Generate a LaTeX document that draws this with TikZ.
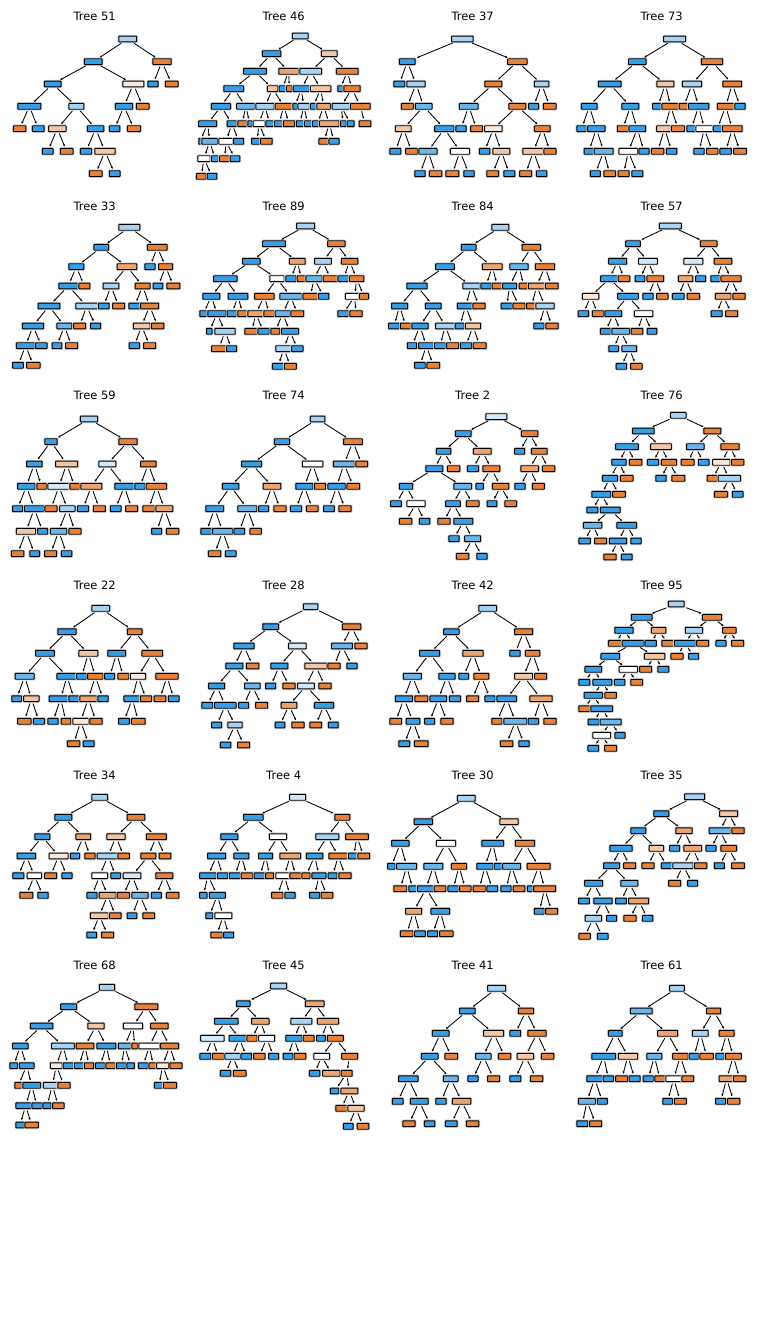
\documentclass[tikz,border=0pt]{standalone}
\usepackage{fontspec}
\setmainfont{DejaVu Sans}
\usetikzlibrary{arrows.meta}

% class colours, lighter = less pure
\definecolor{b1}{HTML}{399DE5}
\colorlet{b2}{b1!75!white}
\colorlet{b3}{b1!45!white}
\colorlet{b4}{b1!22!white}
\definecolor{o1}{HTML}{E58139}
\colorlet{o2}{o1!72!white}
\colorlet{o3}{o1!45!white}
\colorlet{o4}{o1!18!white}
\colorlet{w0}{white}

\tikzset{
  leaf/.style={draw=black, line width=0.95pt, rounded corners=0.6pt, minimum height=5.8pt, inner sep=0pt,
    preaction={draw=black!15, line width=2.7pt}},
  split/.style={-{Stealth[length=2.4pt,width=2.2pt]}, line width=0.85pt, shorten <=1.6pt, shorten >=1.6pt},
  title/.style={font=\fontsize{11.5}{13}\selectfont}
}

% #1 tag, #2/#3 panel offset, #4 list n/x/y/w/colour/parent (0 = root)
\newcommand\plottree[4]{%
  \begin{scope}[xshift=#2pt, yshift=-#3pt, x=0.33333pt, y=-0.33333pt]
    \foreach \n/\x/\y/\w/\c/\p in {#4}{
      \node[leaf, fill=\c, minimum width={(\w/3-0.9)*1pt}] (#1-\n) at (\x,\y) {};
      \ifnum\p>0 \draw[split] (#1-\p) -- (#1-\n); \fi
    }
  \end{scope}}

\begin{document}
\begin{tikzpicture}[x=1pt, y=-1pt]
\useasboundingbox (0,0) rectangle (756,1334);

% titles
\foreach \t/\cx/\cy in {51/94.7/16, 46/283.7/16, 37/472.7/16, 73/661.7/16,
                        33/94.7/206, 89/283.7/206, 84/472.7/206, 57/661.7/206,
                        59/94.7/395, 74/283.7/395, 2/472.7/395, 76/661.7/395,
                        22/94.7/585, 28/283.7/585, 42/472.7/585, 95/661.7/585,
                        34/94.7/775, 4/283.7/775, 30/472.7/775, 35/661.7/775,
                        68/94.7/965, 45/283.7/965, 41/472.7/965, 61/661.7/965}
  \node[title] (title\t) at (\cx,\cy) {Tree \t};

% row 1
\plottree{t51}{0}{5}{1/383/102/56/b3/0, 2/280/170/56/b1/1, 3/486/170/58/o1/1, 4/158/237/53/b1/2, 5/400/237/66/o4/2,
  6/459/237/33/b1/3, 7/515/237/41/o1/3, 8/88/304/72/b1/4, 9/229/304/48/b3/4, 10/372/304/55/b1/5, 11/428/304/41/o1/5,
  12/59/371/40/o1/8, 13/115/371/38/b1/8, 14/172/371/55/o3/9, 15/287/371/52/b1/9, 16/344/371/34/b1/10, 17/402/371/42/o1/10,
  18/143/439/35/b1/14, 19/200/439/41/o1/14, 20/258/439/36/b1/15, 21/315/439/64/o3/15, 22/287/506/41/o1/21, 23/344/506/35/b1/21}

\plottree{t46}{0}{5}{1/901/93/50/b3/0, 2/815/146/58/b1/1, 3/988/146/50/o3/1, 4/765/199/71/b1/2, 5/866/199/62/o2/2,
  6/932/199/68/b3/3, 7/1042/199/68/o1/3, 8/701/251/62/b1/4, 9/818/251/34/o3/4, 10/847/251/22/b1/5, 11/868/251/20/o1/5,
  12/904/251/52/b1/6, 13/962/251/64/o3/6, 14/1021/251/18/b1/7, 15/1056/251/52/o1/7, 16/663/304/60/b1/8, 17/737/304/57/b2/8,
  18/795/304/58/b3/9, 19/852/304/56/o1/9, 20/885/304/16/b1/12, 21/911/304/37/b3/12, 22/940/304/20/b1/13, 23/971/304/44/o2/13,
  24/1023/304/56/b3/15, 25/1081/304/62/o1/15, 26/623/356/57/b1/16, 27/696/356/32/b1/16, 28/727/356/30/o1/17, 29/750/356/16/b1/17,
  30/777/356/38/w0/18, 31/809/356/26/b1/18, 32/836/356/28/b1/19, 33/867/356/37/o1/19, 34/900/356/25/b1/21, 35/924/356/24/b1/21,
  36/952/356/32/b1/23, 37/988/356/62/o2/23, 38/1030/356/20/b1/24, 39/1052/356/24/b1/24, 40/1095/356/38/o1/25,
  41/600/409/10/b1/26, 42/629/409/50/b2/26, 43/678/409/45/w0/27, 44/716/409/33/b1/27, 45/771/409/35/b1/30, 46/799/409/38/o1/30,
  47/972/409/33/o1/37, 48/1002/409/33/b1/37, 49/612/461/40/w0/42, 50/645/461/24/b1/42, 51/674/461/34/o1/43, 52/705/461/32/b1/43,
  53/604/514/32/o1/49, 54/636/514/32/b1/49}

\plottree{t37}{378}{5}{1/253/102/67/b3/0, 2/88/170/50/b1/1, 3/418/170/61/o1/1, 4/64/237/36/b1/2, 5/114/237/57/b3/2,
  6/346/237/54/o1/3, 7/491/237/46/b3/3, 8/88/304/39/o1/5, 9/137/304/53/b2/5, 10/272/304/59/b2/6, 11/418/304/54/o1/6,
  12/467/304/33/b1/7, 13/515/304/41/o1/7, 14/76/371/50/o3/9, 15/199/371/61/b1/9, 16/249/371/34/b1/10, 17/296/371/39/o1/10,
  18/346/371/55/o4/11, 19/493/371/50/o1/11, 20/52/439/36/b1/14, 21/101/439/39/o1/14, 22/150/439/57/b2/15, 23/246/439/60/w0/15,
  24/320/439/34/b1/18, 25/370/439/54/o3/18, 26/466/439/66/o3/19, 27/516/439/39/o1/19, 28/126/506/34/b1/22, 29/173/506/40/o1/22,
  30/223/506/42/o1/23, 31/273/506/34/b1/23, 32/344/506/38/o1/25, 33/394/506/36/b1/25, 34/443/506/39/o1/26, 35/491/506/34/b1/26}

\plottree{t73}{378}{5}{1/890/102/69/b3/0, 2/778/170/55/b1/1, 3/1002/170/67/o1/1, 4/695/237/71/b1/2, 5/862/237/54/o3/2,
  6/942/237/61/b3/3, 7/1063/237/59/o1/3, 8/634/304/50/b1/4, 9/757/304/54/b1/4, 10/840/304/35/b1/5, 11/878/304/55/o1/5,
  12/918/304/32/o1/6, 13/962/304/64/b1/6, 14/1043/304/53/o1/7, 15/1086/304/34/b1/7, 16/611/371/32/b1/8, 17/655/371/55/b1/8,
  18/735/371/37/o1/9, 19/778/371/53/b1/9, 20/860/371/51/o3/11, 21/900/371/42/o1/11, 22/940/371/30/b1/13, 23/979/371/53/w0/13,
  24/1018/371/28/b1/14, 25/1063/371/62/o1/14, 26/633/439/32/b1/17, 27/677/439/60/b2/17, 28/751/439/59/w0/19, 29/798/439/33/b1/19,
  30/839/439/40/o1/20, 31/881/439/34/b1/20, 32/963/439/34/b1/23, 33/1003/439/37/o1/23, 34/1043/439/37/b1/25, 35/1086/439/41/o1/25,
  36/652/506/33/b1/27, 37/695/506/38/o1/27, 38/737/506/36/o1/28, 39/778/506/36/b1/28}

% row 2
\plottree{t33}{0}{195}{1/388/97/66/b3/0, 2/304/157/47/b1/1, 3/472/157/62/o1/1, 4/229/215/48/b1/2, 5/381/215/62/o2/2,
  6/450/215/34/b1/3, 7/497/215/45/o1/3, 8/205/273/60/b1/4, 9/253/273/36/o1/4, 10/333/273/50/b3/5, 11/428/273/48/o1/5,
  12/474/273/32/b1/7, 13/520/273/42/o1/7, 14/147/333/68/b1/8, 15/260/333/68/b3/8, 16/311/333/35/b1/10, 17/356/333/39/o1/10,
  18/404/333/37/b1/11, 19/449/333/57/o1/11, 20/99/393/66/b1/14, 21/193/393/48/b2/14, 22/239/393/39/o1/15, 23/287/393/33/b1/15,
  24/425/393/53/o3/19, 25/473/393/40/o1/19, 26/77/452/58/b1/20, 27/124/452/37/b1/20, 28/171/452/32/b1/21, 29/215/452/39/o1/21,
  30/403/452/34/b1/24, 31/449/452/39/o1/24, 32/54/511/35/b1/26, 33/100/511/43/o1/26}

\plottree{t89}{0}{195}{1/917/93/57/b3/0, 2/822/146/71/b1/1, 3/1009/146/55/o1/1, 4/754/199/55/b1/2, 5/892/199/50/o2/2,
  6/969/199/53/b3/3, 7/1049/199/52/o1/3, 8/676/251/73/b1/4, 9/831/251/46/w0/4, 10/873/251/34/b1/5, 11/904/251/28/o1/5,
  12/942/251/51/b2/6, 13/991/251/46/o1/6, 14/1030/251/35/b1/7, 15/1070/251/46/o1/7, 16/634/304/54/b1/8, 17/714/304/62/b1/8,
  18/793/304/61/o1/9, 19/872/304/68/b2/9, 20/931/304/48/o1/12, 21/971/304/34/b1/12, 22/1064/304/58/w0/15, 23/1092/304/30/o1/15,
  24/610/356/24/b1/16, 25/651/356/58/b1/16, 26/696/356/32/b1/17, 27/728/356/32/o1/17, 28/767/356/50/o2/18, 29/808/356/36/o1/18,
  30/848/356/48/b2/19, 31/892/356/41/o1/19, 32/1030/356/36/b1/22, 33/1068/356/40/o1/22, 34/628/409/19/b1/25, 35/675/409/64/b3/25,
  36/756/409/46/o1/28, 37/791/409/37/b1/28, 38/826/409/30/o1/30, 39/870/409/54/b1/30, 40/657/461/47/o1/35, 41/695/461/33/b1/35,
  42/852/461/52/b3/39, 43/892/461/37/b1/39, 44/834/514/36/b1/42, 45/871/514/39/o1/42}

\plottree{t84}{378}{195}{1/367/97/54/b3/0, 2/272/157/47/b1/1, 3/460/157/58/o1/1, 4/201/215/59/b1/2, 5/343/215/62/o2/2,
  6/423/215/58/b2/3, 7/501/215/61/o1/3, 8/117/273/63/b1/4, 9/280/273/54/b3/4, 10/324/273/34/b1/5, 11/358/273/34/o1/5,
  12/395/273/45/b1/6, 13/438/273/32/o1/6, 14/476/273/52/o2/7, 15/521/273/41/o1/7, 16/65/333/51/b1/8, 17/166/333/50/b1/8,
  18/263/333/53/b1/9, 19/303/333/39/o1/9, 20/386/333/36/b1/12, 21/423/333/39/o1/12, 22/461/333/33/o1/14, 23/501/333/58/b3/14,
  24/48/393/35/b1/16, 25/83/393/34/o1/16, 26/126/393/52/b1/17, 27/202/393/61/b3/17, 28/245/393/30/b1/18, 29/285/393/49/o3/18,
  30/483/393/34/b1/23, 31/522/393/40/o1/23, 32/102/452/31/b1/26, 33/145/452/49/b1/26, 34/186/452/36/b1/27, 35/224/452/39/o1/27,
  36/264/452/37/b1/29, 37/305/452/42/o1/29, 38/126/511/35/b1/33, 39/166/511/41/o1/33}

\plottree{t57}{378}{195}{1/877/93/69/b3/0, 2/765/146/47/b1/1, 3/992/146/53/o1/1, 4/719/199/57/b1/2, 5/810/199/59/b4/2,
  6/946/199/60/b4/3, 7/1035/199/56/o1/3, 8/694/251/55/b1/4, 9/738/251/38/o1/4, 10/786/251/32/b1/5, 11/832/251/53/o1/5,
  12/923/251/46/o2/6, 13/968/251/33/b1/6, 14/1015/251/36/b1/7, 15/1059/251/63/o1/7, 16/638/304/52/o4/8, 17/750/304/65/b1/8,
  18/810/304/34/b1/11, 19/853/304/37/o1/11, 20/901/304/38/b1/12, 21/946/304/40/o1/12, 22/1036/304/50/o2/15, 23/1083/304/40/o1/15,
  24/616/356/34/b1/16, 25/660/356/37/o1/16, 26/706/356/53/b1/17, 27/797/356/58/w0/17, 28/1016/356/36/b1/22, 29/1061/356/39/o1/22,
  30/683/409/34/b1/26, 31/728/409/56/b2/26, 32/777/409/38/o1/27, 33/822/409/32/b1/27, 34/707/461/32/b1/31, 35/754/461/47/b2/31,
  36/730/514/34/b1/35, 37/775/514/37/o1/35}

% row 3
\plottree{t59}{0}{385}{1/267/102/55/b3/0, 2/153/170/40/b1/1, 3/384/170/58/o1/1, 4/103/237/49/b1/2, 5/200/237/69/o3/2,
  6/322/237/54/b4/3, 7/445/237/49/o1/3, 8/79/304/55/b1/4, 9/125/304/32/o1/4, 10/177/304/69/b4/5, 11/224/304/32/o1/5,
  12/274/304/66/o2/6, 13/373/304/60/b1/6, 14/420/304/34/b1/7, 15/469/304/64/o1/7, 16/53/371/33/b1/8, 17/103/371/62/b1/8,
  18/153/371/39/o1/10, 19/202/371/49/b3/10, 20/249/371/36/b1/12, 21/298/371/39/o1/12, 22/347/371/35/b1/13, 23/395/371/39/o1/13,
  24/446/371/38/o1/15, 25/493/371/54/o2/15, 26/78/439/61/o3/17, 27/128/439/33/b1/17, 28/176/439/52/b2/19, 29/225/439/39/o1/19,
  30/470/439/33/b1/25, 31/518/439/40/o1/25, 32/53/506/40/o1/26, 33/104/506/32/b1/26, 34/152/506/39/o1/28, 35/200/506/34/b1/28}

\plottree{t74}{0}{385}{1/953/102/46/b3/0, 2/846/170/48/b1/1, 3/1059/170/59/o1/1, 4/755/237/63/b1/2, 5/938/237/64/w0/2,
  6/1032/237/66/b2/3, 7/1085/237/38/o1/3, 8/692/304/52/b1/4, 9/816/304/56/o2/4, 10/913/304/54/b1/5, 11/960/304/37/o1/5,
  12/1010/304/55/b1/6, 13/1060/304/41/o1/6, 14/644/371/56/b1/8, 15/742/371/60/b2/8, 16/791/371/33/b1/9, 17/840/371/40/o1/9,
  18/888/371/36/b1/10, 19/937/371/38/o1/10, 20/987/371/35/b1/12, 21/1035/371/40/o1/12, 22/619/439/36/b1/14, 23/668/439/63/b2/14,
  24/718/439/35/b1/15, 25/767/439/37/o1/15, 26/644/506/40/o1/23, 27/692/506/35/b1/23}

\plottree{t2}{378}{385}{1/355/95/66/b4/0, 2/256/146/50/b1/1, 3/455/146/52/o1/1, 4/197/199/46/b1/2, 5/313/199/56/o2/2,
  6/425/199/33/b1/3, 7/484/199/50/o1/3, 8/169/251/54/b1/4, 9/227/251/40/o1/4, 10/285/251/36/b1/5, 11/340/251/54/o1/5,
  12/455/251/56/o2/7, 13/512/251/40/o1/7, 14/84/304/43/b1/8, 15/254/304/56/b2/8, 16/305/304/25/b1/11, 17/368/304/52/o1/11,
  18/426/304/34/b1/12, 19/481/304/39/o1/12, 20/54/356/35/b1/14, 21/114/356/57/w0/14, 22/225/356/47/b1/15, 23/284/356/41/o1/15,
  24/342/356/32/b1/17, 25/398/356/38/o1/17, 26/83/409/40/o1/21, 27/140/409/34/b1/21, 28/198/409/40/o1/22, 29/256/409/60/b1/22,
  30/228/461/34/b1/29, 31/284/461/51/b2/29, 32/254/514/40/o1/31, 33/312/514/34/b1/31}

\plottree{t76}{378}{385}{1/901/91/49/b3/0, 2/796/138/67/b1/1, 3/1003/138/54/o1/1, 4/747/185/71/b1/2, 5/849/185/65/o3/2,
  6/952/185/55/b2/3, 7/1056/185/58/o1/3, 8/723/232/46/b1/4, 9/773/232/40/o1/4, 10/825/232/36/b1/5, 11/873/232/48/o1/5,
  12/929/232/42/o1/6, 13/977/232/35/b1/6, 14/1030/232/55/o4/7, 15/1079/232/40/o1/7, 16/696/280/48/b1/8, 17/746/280/41/o1/8,
  18/849/280/34/b1/11, 19/901/280/42/o1/11, 20/1004/280/36/o1/14, 21/1054/280/70/b3/14, 22/670/328/60/b1/16, 23/723/328/41/o1/16,
  24/1029/328/42/o1/21, 25/1079/328/35/b1/21, 26/643/375/36/b1/22, 27/697/375/62/b1/22, 28/644/421/58/b2/27, 29/746/421/62/b1/27,
  30/620/468/37/b1/28, 31/668/468/39/o1/28, 32/720/468/54/b1/29, 33/774/468/33/b1/29, 34/696/516/40/o1/32, 35/746/516/35/b1/32}

% row 4
\plottree{t22}{0}{575}{1/302/100/56/b3/0, 2/201/170/58/b1/1, 3/404/170/47/o1/1, 4/135/235/59/b1/2, 5/265/235/60/o3/2,
  6/350/235/56/b1/3, 7/457/235/65/o1/3, 8/74/304/60/b2/4, 9/201/304/63/b1/4, 10/245/304/33/b1/5, 11/286/304/49/o1/5,
  12/329/304/33/b1/6, 13/370/304/36/o1/6, 14/414/304/49/o4/7, 15/501/304/70/o1/7, 16/50/371/32/b1/8, 17/94/371/49/o3/8,
  18/182/371/72/b1/9, 19/222/371/34/b1/9, 20/265/371/54/o2/11, 21/309/371/34/b1/11, 22/397/371/53/b1/14, 23/438/371/37/o1/14,
  24/480/371/38/o1/15, 25/521/371/35/b1/15, 26/73/439/43/o1/17, 27/117/439/36/b1/17, 28/159/439/34/b1/18, 29/198/439/32/o1/18,
  30/242/439/50/o4/20, 31/288/439/40/o1/20, 32/372/439/35/b1/22, 33/415/439/44/o1/22, 34/221/506/40/o1/30, 35/266/506/36/b1/30}

\plottree{t28}{0}{575}{1/932/95/46/b3/0, 2/812/155/50/b1/1, 3/1055/155/58/o1/1, 4/732/213/63/b1/2, 5/892/213/55/b4/2,
  6/1026/213/65/b2/3, 7/1083/213/39/o1/3, 8/703/273/54/b1/4, 9/758/273/40/o1/4, 10/838/273/54/b1/5, 11/947/273/68/o3/5,
  12/1002/273/40/o1/6, 13/1056/273/34/b1/6, 14/650/333/51/b1/8, 15/757/333/49/b2/8, 16/812/333/33/b1/10, 17/867/333/39/o1/10,
  18/918/333/53/b4/11, 19/975/333/40/o1/11, 20/622/391/36/b1/14, 21/676/391/67/b1/14, 22/731/391/33/b1/15, 23/785/391/39/o1/15,
  24/867/391/50/o2/18, 25/972/391/60/b1/18, 26/650/450/33/b1/21, 27/705/450/46/b3/21, 28/840/450/32/b1/24, 29/894/450/39/o1/24,
  30/947/450/38/o1/25, 31/1000/450/32/b1/25, 32/677/510/34/b1/27, 33/731/510/39/o1/27}

\plottree{t42}{378}{575}{1/329/100/56/b3/0, 2/220/170/49/b1/1, 3/437/170/57/o1/1, 4/155/235/63/b1/2, 5/285/235/64/o2/2,
  6/411/235/34/b1/3, 7/464/235/46/o1/3, 8/103/304/57/b2/4, 9/207/304/52/b1/4, 10/257/304/32/b1/5, 11/310/304/48/o1/5,
  12/437/304/57/o3/7, 13/488/304/39/o1/7, 14/78/371/55/b1/8, 15/130/371/42/o1/8, 16/181/371/53/b1/9, 17/231/371/36/b1/9,
  18/284/371/39/o1/11, 19/336/371/33/b1/11, 20/386/371/62/b1/12, 21/489/371/70/o2/12, 22/53/439/38/o1/14, 23/105/439/44/b1/14,
  24/155/439/33/b1/16, 25/207/439/40/o1/16, 26/357/439/34/o1/20, 27/412/439/72/b2/20, 28/466/439/34/b1/21, 29/516/439/40/o1/21,
  30/79/506/36/b1/23, 31/130/506/44/o1/23, 32/386/506/40/o1/27, 33/438/506/34/b1/27}

\plottree{t95}{378}{575}{1/895/87/50/b3/0, 2/791/127/65/b1/1, 3/1002/127/60/o1/1, 4/738/166/58/b1/2, 5/842/166/46/o2/2,
  6/948/166/55/b3/3, 7/1054/166/43/o1/3, 8/712/205/44/o1/4, 9/765/205/68/b1/4, 10/818/205/37/b1/5, 11/869/205/38/o1/5,
  12/921/205/67/b1/6, 13/974/205/39/o1/6, 14/1029/205/33/b1/7, 15/1079/205/39/o1/7, 16/697/244/59/b1/9, 17/830/244/64/o3/9,
  18/897/244/39/o1/12, 19/947/244/33/b1/12, 20/646/283/53/b1/16, 21/751/283/58/w0/16, 22/803/283/39/o1/17, 23/856/283/36/b1/17,
  24/619/322/36/b1/20, 25/673/322/60/b1/20, 26/725/322/34/b1/21, 27/776/322/38/o1/21, 28/646/361/58/b1/25, 29/698/361/37/o1/25,
  30/619/401/36/o1/28, 31/671/401/68/b1/28, 32/647/441/36/b1/31, 33/698/441/66/b2/31, 34/671/481/56/w0/33, 35/726/481/33/b1/33,
  36/646/520/35/b1/34, 37/698/520/39/o1/34}

% row 5
\plottree{t34}{0}{765}{1/299/97/50/b3/0, 2/190/157/54/b1/1, 3/408/157/56/o1/1, 4/127/215/48/b1/2, 5/250/215/47/o2/2,
  6/348/215/58/o3/3, 7/469/215/63/o1/3, 8/79/273/58/b1/4, 9/176/273/60/o4/4, 10/225/273/31/b1/5, 11/270/273/34/o1/5,
  12/324/273/68/b3/6, 13/371/273/37/o1/6, 14/445/273/48/o1/7, 15/495/273/38/o1/7, 16/55/332/36/b1/8, 17/103/332/46/w0/8,
  18/152/332/39/o1/9, 19/201/332/33/b1/9, 20/299/332/50/w0/12, 21/347/332/32/b1/12, 22/396/332/56/b4/14, 23/493/332/54/o1/14,
  24/79/391/42/o1/17, 25/129/391/34/b1/17, 26/276/391/33/b1/20, 27/323/391/54/o2/20, 28/370/391/40/o1/22, 29/420/391/52/b2/22,
  30/469/391/33/b1/23, 31/518/391/40/o1/23, 32/298/452/57/o3/27, 33/346/452/38/o1/27, 34/396/452/32/b1/29, 35/446/452/38/o1/29,
  36/275/510/32/b1/32, 37/323/510/39/o1/32}

\plottree{t4}{0}{765}{1/893/97/51/b4/0, 2/760/157/61/b1/1, 3/1027/157/48/o1/1, 4/688/215/54/b1/2, 5/834/215/54/w0/2,
  6/982/215/72/b3/3, 7/1071/215/71/o1/3, 8/650/273/57/b1/4, 9/724/273/48/b1/4, 10/797/273/45/b1/5, 11/871/273/65/o2/5,
  12/944/273/52/b1/6, 13/1015/273/59/o1/6, 14/1061/273/35/b1/7, 15/1091/273/38/o1/7, 16/624/332/53/b1/8, 17/668/332/34/b1/8,
  18/705/332/37/b1/9, 19/741/332/38/o1/9, 20/780/332/38/b1/10, 21/809/332/27/o1/10, 22/853/332/54/w0/11, 23/887/332/38/o1/11,
  24/918/332/27/o1/12, 25/957/332/45/b1/12, 26/998/332/30/b1/13, 27/1035/332/40/o1/13, 28/610/391/25/b1/16, 29/652/391/51/b1/16,
  30/832/391/37/o1/22, 31/870/391/34/b1/22, 32/944/391/33/b1/25, 33/981/391/38/o1/25, 34/628/452/24/b1/29, 35/670/452/54/w0/29,
  36/650/510/37/o1/35, 37/686/510/33/b1/35}

\plottree{t30}{378}{765}{1/265/100/56/b3/0, 2/136/170/58/b1/1, 3/393/170/58/o3/1, 4/67/235/55/b1/2, 5/204/235/60/w0/2,
  6/344/235/68/b1/3, 7/441/235/61/o1/3, 8/40/304/25/b1/4, 9/86/304/63/b2/4, 10/166/304/60/b2/5, 11/243/304/48/o1/5,
  12/321/304/52/b1/6, 13/360/304/26/b1/6, 14/401/304/57/b2/7, 15/482/304/72/o1/7, 16/67/371/42/o1/9, 17/104/371/26/b1/9,
  18/144/371/54/b1/10, 19/186/371/38/o1/10, 20/226/371/35/b1/11, 21/262/371/37/o1/11, 22/304/371/40/o1/12, 23/343/371/35/b1/12,
  24/384/371/34/b1/14, 25/423/371/38/o1/14, 26/457/371/20/b1/15, 27/500/371/69/o1/15, 28/107/439/51/o2/18, 29/187/439/59/b1/18,
  30/484/439/33/b1/27, 31/521/439/39/o1/27, 32/86/506/41/o1/28, 33/126/506/35/b1/28, 34/164/506/33/b1/29, 35/205/506/43/o1/29}

\plottree{t35}{378}{765}{1/950/95/63/b3/0, 2/850/146/48/b1/1, 3/1052/146/57/o3/1, 4/781/197/48/b1/2, 5/918/197/52/o2/2,
  6/1026/197/68/b2/3, 7/1080/197/40/o1/3, 8/729/250/70/b1/4, 9/835/250/46/o3/4, 10/890/250/33/b1/5, 11/944/250/56/o2/5,
  12/999/250/33/b1/6, 13/1052/250/50/o1/6, 14/701/302/51/b1/8, 15/755/302/39/o1/8, 16/810/302/39/o1/9, 17/867/302/36/b1/9,
  18/915/302/64/b3/11, 19/968/302/40/o1/11, 20/1024/302/33/b1/13, 21/1080/302/41/o1/13, 22/647/355/57/b1/14, 23/754/355/54/b2/14,
  24/890/355/39/o1/18, 25/944/355/33/b1/18, 26/618/408/35/b1/22, 27/675/408/58/b1/22, 28/729/408/35/b1/23, 29/782/408/63/o2/23,
  30/646/460/52/b3/27, 31/701/460/33/b1/27, 32/756/460/40/o1/29, 33/809/460/34/b1/29, 34/620/514/37/o1/30, 35/674/514/35/b1/30}

% row 6
\plottree{t68}{0}{955}{1/321/97/49/b3/0, 2/206/155/51/b1/1, 3/439/155/72/o1/1, 4/125/213/70/b1/2, 5/288/213/52/o3/2,
  6/399/213/60/w0/3, 7/478/213/55/o1/3, 8/61/273/49/b1/4, 9/189/273/71/b3/4, 10/255/273/56/o1/5, 11/319/273/60/b1/5,
  12/374/273/40/b2/6, 13/404/273/20/o1/6, 14/448/273/65/w0/7, 15/509/273/57/o1/7, 16/41/332/26/b1/8, 17/80/332/47/b1/8,
  18/169/332/38/o4/9, 19/205/332/34/b1/9, 20/237/332/30/b1/10, 21/267/332/31/o1/10, 22/301/332/32/b1/11, 23/332/332/31/o1/11,
  24/364/332/32/b1/12, 25/392/332/25/b1/12, 26/430/332/32/b1/14, 27/460/332/29/o1/14, 28/488/332/39/o4/15, 29/528/332/39/o1/15,
  30/55/391/24/o1/17, 31/95/391/56/b1/17, 32/157/391/56/b3/18, 33/192/391/40/o1/18, 34/477/391/30/b1/28, 35/510/391/42/o1/28,
  36/77/452/61/b1/31, 37/111/452/33/b1/31, 38/141/452/27/b1/32, 39/175/452/37/o1/32, 40/60/510/27/b1/36, 41/95/510/43/o1/36}

\plottree{t45}{0}{955}{1/836/93/51/b3/0, 2/730/146/43/b1/1, 3/944/146/59/o2/1, 4/679/199/73/b1/2, 5/781/199/55/o2/2,
  6/904/199/66/b3/3, 7/984/199/66/o2/3, 8/637/250/73/b4/4, 9/718/250/64/b1/4, 10/756/250/33/o1/5, 11/800/250/51/w0/5,
  12/882/250/52/b1/6, 13/926/250/36/o1/6, 14/963/250/29/b1/7, 15/1006/250/51/o1/7, 16/616/304/36/b1/8, 17/655/304/38/o1/8,
  18/698/304/49/b3/9, 19/739/304/35/b1/9, 20/778/304/37/o1/11, 21/821/304/33/b1/11, 22/864/304/32/b1/12, 23/900/304/38/o1/12,
  24/965/304/50/w0/15, 25/1049/304/51/o1/15, 26/677/355/34/b1/18, 27/719/355/41/o1/18, 28/944/355/34/b1/24, 29/994/355/55/o2/24,
  30/1040/355/36/o1/25, 31/1004/408/28/b1/30, 32/1048/408/54/o2/30, 33/1024/460/36/o1/32, 34/1068/460/52/o3/32,
  35/1045/514/32/b1/34, 36/1089/514/38/o1/34}

\plottree{t41}{378}{955}{1/356/100/57/b3/0, 2/268/168/49/b1/1, 3/444/168/49/o1/1, 4/188/235/53/b1/2, 5/347/235/63/o3/2,
  6/412/235/35/b1/3, 7/477/235/58/o1/3, 8/155/304/53/b1/4, 9/220/304/41/o1/4, 10/316/304/49/b2/5, 11/380/304/40/o1/5,
  12/442/304/52/o3/7, 13/509/304/40/o1/7, 14/91/371/61/b1/8, 15/218/371/47/b2/8, 16/285/371/33/b1/10, 17/347/371/39/o1/10,
  18/412/371/36/b1/12, 19/476/371/40/o1/12, 20/59/439/35/b1/14, 21/124/439/56/b1/14, 22/189/439/34/b1/15, 23/251/439/58/o2/15,
  24/93/506/40/o1/21, 25/155/506/34/b1/21, 26/220/506/38/b1/23, 27/284/506/40/o1/23}

\plottree{t61}{378}{955}{1/897/100/47/b3/0, 2/790/168/68/b2/1, 3/1007/168/45/o1/1, 4/712/235/44/b1/2, 5/869/235/63/o2/2,
  6/967/235/50/b3/3, 7/1046/235/48/o1/3, 8/677/304/74/b1/4, 9/750/304/61/o3/4, 10/829/304/48/b2/5, 11/907/304/49/o1/5,
  12/948/304/32/b1/6, 13/986/304/43/o1/6, 14/1026/304/28/b1/7, 15/1066/304/51/o1/7, 16/650/371/50/b1/8, 17/691/371/34/b1/8,
  18/731/371/39/o1/9, 19/770/371/36/b1/9, 20/811/371/34/b1/10, 21/846/371/33/o1/10, 22/887/371/50/w0/11, 23/929/371/38/o1/11,
  24/1046/371/48/o2/15, 25/1085/371/40/o1/15, 26/627/439/54/b2/16, 27/673/439/33/b1/16, 28/869/439/32/b1/22, 29/907/439/39/o1/22,
  30/1028/439/33/b1/24, 31/1067/439/40/o1/24, 32/613/506/36/b1/26, 33/653/506/39/o1/26}

\end{tikzpicture}
\end{document}
